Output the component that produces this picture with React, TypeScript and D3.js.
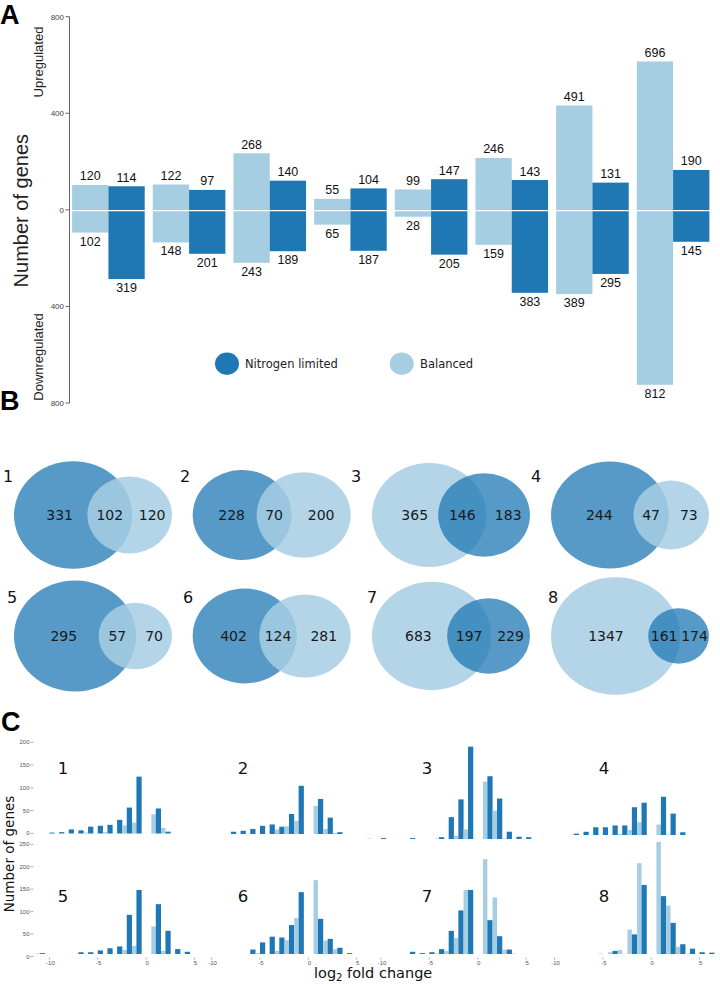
import React from "react";
import * as d3 from "d3";

// ---------- Panel A data ----------
const comparisons = ["1", "2", "3", "4", "5", "6", "7", "8"];
const balancedUp = [120, 122, 268, 55, 99, 246, 491, 696];
const balancedDown = [102, 148, 243, 65, 28, 159, 389, 812];
const nLimitedUp = [114, 97, 140, 104, 147, 143, 131, 190];
const nLimitedDown = [319, 201, 189, 187, 205, 383, 295, 145];
const axisATicks = [800, 400, 0, -400, -800];

// ---------- Panel B data ----------
const vennNLimitedOnly = [331, 228, 183, 244, 295, 402, 229, 174];
const vennShared = [102, 70, 146, 47, 57, 124, 197, 161];
const vennBalancedOnly = [120, 200, 365, 73, 70, 281, 683, 1347];

// ---------- Panel C data ----------
const foldBins = [-11, -10, -9, -8, -7, -6, -5, -4, -3, -2, -1, 0, 1, 2, 3, 4, 5, 6];
const histBalanced1 = [0, 0, 0, 0, 0, 2, 0, 3, 0, 18, 24, 0, 42, 12, 0, 0, 0, 0];
const histNLimited1 = [0, 2, 3, 9, 7, 15, 17, 19, 30, 57, 125, 0, 55, 4, 0, 0, 0, 0];
const histBalanced2 = [0, 0, 0, 0, 0, 0, 0, 0, 10, 17, 29, 0, 62, 11, 2, 0, 0, 0];
const histNLimited2 = [0, 0, 0, 5, 7, 11, 18, 21, 16, 44, 106, 0, 77, 36, 4, 0, 0, 0];
const histBalanced3 = [1, 0, 0, 0, 0, 0, 0, 1, 0, 7, 21, 0, 126, 62, 1, 0, 0, 0];
const histNLimited3 = [0, 2, 0, 0, 2, 0, 0, 4, 48, 87, 203, 0, 138, 89, 16, 5, 4, 0];
const histBalanced4 = [0, 0, 0, 1, 0, 0, 0, 0, 2, 11, 28, 0, 23, 1, 0, 0, 0, 0];
const histNLimited4 = [0, 0, 0, 3, 7, 17, 17, 21, 21, 61, 71, 0, 84, 47, 6, 0, 0, 0];
const histBalanced5 = [1, 0, 0, 0, 0, 0, 0, 0, 0, 9, 18, 0, 62, 7, 0, 0, 0, 0];
const histNLimited5 = [2, 0, 0, 0, 4, 4, 8, 13, 17, 88, 144, 0, 112, 52, 11, 5, 0, 0];
const histBalanced6 = [0, 0, 0, 0, 0, 0, 2, 0, 7, 31, 81, 0, 166, 30, 11, 0, 0, 0];
const histNLimited6 = [0, 0, 0, 0, 0, 10, 26, 39, 37, 65, 139, 0, 79, 34, 14, 2, 0, 0];
const histBalanced7 = [0, 0, 0, 0, 0, 0, 0, 1, 7, 36, 144, 0, 213, 127, 10, 1, 0, 0];
const histNLimited7 = [0, 0, 0, 0, 5, 2, 4, 11, 52, 98, 144, 0, 76, 40, 10, 0, 0, 0];
const histBalanced8 = [0, 0, 0, 0, 0, 0, 1, 4, 9, 55, 204, 0, 252, 109, 16, 1, 0, 0];
const histNLimited8 = [0, 0, 0, 0, 0, 0, 0, 7, 0, 44, 155, 0, 130, 70, 22, 12, 4, 3];
const histBalanced = [histBalanced1, histBalanced2, histBalanced3, histBalanced4, histBalanced5, histBalanced6, histBalanced7, histBalanced8];
const histNLimited = [histNLimited1, histNLimited2, histNLimited3, histNLimited4, histNLimited5, histNLimited6, histNLimited7, histNLimited8];
const histTopTicks = [0, 50, 100, 150, 200];
const histBottomTicks = [0, 50, 100, 150, 200, 250];
const foldTicks = [-10, -5, 0, 5];

// ---------- style / layout ----------
const DARK = "#1f78b4";
const LIGHT = "#a6cee3";
const ARIAL = "'Liberation Sans', Arial, sans-serif";
const DEJAVU = "'DejaVu Sans', Verdana, sans-serif";

function lensArea(r1: number, r2: number, d: number) {
  if (d >= r1 + r2) return 0;
  if (d <= Math.abs(r1 - r2)) return Math.PI * Math.min(r1, r2) ** 2;
  const a1 = Math.acos((d * d + r1 * r1 - r2 * r2) / (2 * d * r1));
  const a2 = Math.acos((d * d + r2 * r2 - r1 * r1) / (2 * d * r2));
  return (
    r1 * r1 * a1 +
    r2 * r2 * a2 -
    0.5 * Math.sqrt((-d + r1 + r2) * (d + r1 - r2) * (d - r1 + r2) * (d + r1 + r2))
  );
}
function solveDistance(r1: number, r2: number, overlap: number) {
  let lo = Math.abs(r1 - r2);
  let hi = r1 + r2;
  for (let i = 0; i < 80; i++) {
    const mid = (lo + hi) / 2;
    if (lensArea(r1, r2, mid) > overlap) lo = mid;
    else hi = mid;
  }
  return (lo + hi) / 2;
}

function PanelA() {
  // bar scale and (separately drawn) axis scale as in the reference
  const yA = d3.scaleLinear().domain([0, 812]).range([210.7, 210.7 - 812 * 0.2144]);
  const yAxisA = d3.scaleLinear().domain([-800, 800]).range([403, 16.7]);
  const xA = d3.scaleBand().domain(comparisons).range([70.5, 711]).paddingInner(0.1).paddingOuter(0.02);
  const xSub = d3.scaleBand().domain(["bal", "nlim"]).range([0, xA.bandwidth()]);
  const bw = xSub.bandwidth();
  const y0 = yA(0);
  return (
    <g>
      <text x={0} y={24} fontFamily={ARIAL} fontWeight="bold" fontSize={27}>A</text>
      <line x1={69.5} x2={69.5} y1={yAxisA(800)} y2={yAxisA(-800)} stroke="#666" strokeWidth={1} />
      {axisATicks.map((t, i) => (
        <g key={i}>
          <line x1={65.5} x2={69.5} y1={yAxisA(t)} y2={yAxisA(t)} stroke="#666" />
          <text x={64} y={yAxisA(t)} dy="0.35em" textAnchor="end" fontFamily={ARIAL} fontSize={8} fill="#444">
            {Math.abs(t)}
          </text>
        </g>
      ))}
      <text transform={`translate(28,${y0}) rotate(-90)`} textAnchor="middle" fontFamily={ARIAL} fontSize={20} fill="#222">
        Number of genes
      </text>
      <text transform={`translate(43,62) rotate(-90)`} textAnchor="middle" fontFamily={ARIAL} fontSize={13} fill="#222">
        Upregulated
      </text>
      <text transform={`translate(43,357) rotate(-90)`} textAnchor="middle" fontFamily={ARIAL} fontSize={13} fill="#222">
        Downregulated
      </text>
      {comparisons.map((c, i) => {
        const xb = (xA(c) as number) + (xSub("bal") as number);
        const xn = (xA(c) as number) + (xSub("nlim") as number);
        const down = (v: number) => 2 * y0 - yA(v);
        return (
          <g key={c}>
            <rect x={xb} width={bw} y={yA(balancedUp[i])} height={y0 - yA(balancedUp[i])} fill={LIGHT} />
            <rect x={xb} width={bw} y={y0} height={down(balancedDown[i]) - y0} fill={LIGHT} />
            <rect x={xn} width={bw} y={yA(nLimitedUp[i])} height={y0 - yA(nLimitedUp[i])} fill={DARK} />
            <rect x={xn} width={bw} y={y0} height={down(nLimitedDown[i]) - y0} fill={DARK} />
            <text x={xb + bw / 2} y={yA(balancedUp[i]) - 4.5} textAnchor="middle" fontFamily={ARIAL} fontSize={12.5} fill="#111">
              {balancedUp[i]}
            </text>
            <text x={xb + bw / 2} y={down(balancedDown[i]) + 13} textAnchor="middle" fontFamily={ARIAL} fontSize={12.5} fill="#111">
              {balancedDown[i]}
            </text>
            <text x={xn + bw / 2} y={yA(nLimitedUp[i]) - 4.5} textAnchor="middle" fontFamily={ARIAL} fontSize={12.5} fill="#111">
              {nLimitedUp[i]}
            </text>
            <text x={xn + bw / 2} y={down(nLimitedDown[i]) + 13} textAnchor="middle" fontFamily={ARIAL} fontSize={12.5} fill="#111">
              {nLimitedDown[i]}
            </text>
          </g>
        );
      })}
      <line x1={70} x2={712} y1={y0} y2={y0} stroke="#fff" strokeWidth={1.2} />
      <ellipse cx={227} cy={363.7} rx={12} ry={11.2} fill={DARK} />
      <text x={245} y={363.7} dy="0.35em" fontFamily={DEJAVU} fontSize={11.5} fill="#222">Nitrogen limited</text>
      <ellipse cx={401.7} cy={363.7} rx={12} ry={11.2} fill={LIGHT} />
      <text x={420} y={363.7} dy="0.35em" fontFamily={DEJAVU} fontSize={11.5} fill="#222">Balanced</text>
    </g>
  );
}

const vennColX = [14, 192.7, 372, 551];
const vennRowY = [515, 636];
const vennNumX = [
  [8, 185, 356, 536],
  [12, 188, 372, 553],
];

function PanelB() {
  return (
    <g>
      <text x={0} y={410} fontFamily={ARIAL} fontWeight="bold" fontSize={27}>B</text>
      {comparisons.map((c, i) => {
        const nTotal = vennNLimitedOnly[i] + vennShared[i];
        const bTotal = vennBalancedOnly[i] + vennShared[i];
        const nlimBig = nTotal >= bTotal;
        const r1 = Math.sqrt(Math.max(nTotal, bTotal) / Math.PI);
        const r2 = Math.sqrt(Math.min(nTotal, bTotal) / Math.PI);
        const d = solveDistance(r1, r2, vennShared[i]);
        const row = Math.floor(i / 4);
        const col = i % 4;
        const x0 = vennColX[col];
        const sx = d3.scaleLinear().domain([0, r1 + d + r2]).range([x0, x0 + 158]);
        const k = sx(1) - sx(0);
        const cy = vennRowY[row];
        const c1 = sx(r1);
        const c2 = sx(r1 + d);
        const rx1 = k * r1;
        const rx2 = k * r2;
        const leftEdge = sx(0);
        const ovL = c2 - rx2;
        const ovR = c1 + rx1;
        const rightEdge = sx(r1 + d + r2);
        const midLeft = (leftEdge + ovL) / 2;
        const leftLabelX = midLeft + 0.4 * (c1 - midLeft);
        const sharedX = (ovL + ovR) / 2;
        const rightX = (ovR + rightEdge) / 2;
        const leftCol = nlimBig ? DARK : LIGHT;
        const rightCol = nlimBig ? LIGHT : DARK;
        const leftOnly = nlimBig ? vennNLimitedOnly[i] : vennBalancedOnly[i];
        const rightOnly = nlimBig ? vennBalancedOnly[i] : vennNLimitedOnly[i];
        const op = (col2: string) => (col2 === DARK ? 0.75 : 0.85);
        return (
          <g key={c}>
            <ellipse cx={c1} cy={cy} rx={rx1} ry={rx1 * 0.91} fill={leftCol} fillOpacity={op(leftCol)} />
            <ellipse cx={c2} cy={cy} rx={rx2} ry={rx2 * 0.91} fill={rightCol} fillOpacity={op(rightCol)} />
            <text x={leftLabelX} y={cy} dy="0.35em" textAnchor="middle" fontFamily={DEJAVU} fontSize={14} fill="#1a1a1a">{leftOnly}</text>
            <text x={sharedX} y={cy} dy="0.35em" textAnchor="middle" fontFamily={DEJAVU} fontSize={14} fill="#1a1a1a">{vennShared[i]}</text>
            <text x={rightX} y={cy} dy="0.35em" textAnchor="middle" fontFamily={DEJAVU} fontSize={14} fill="#1a1a1a">{rightOnly}</text>
            <text x={vennNumX[row][col]} y={cy - 33} textAnchor="middle" fontFamily={DEJAVU} fontSize={16} fill="#111">{c}</text>
          </g>
        );
      })}
    </g>
  );
}

const histZeroX = [146.1, 308.3, 477.7, 651.2];
const histTopBase = [833.5, 834, 839, 835];
const histBottomBase = 954;
const histNumX = [63, 243, 427, 604];

function PanelC() {
  const yTopAxis = d3.scaleLinear().domain([0, 200]).range([833.3, 742.3]);
  const yBotAxis = d3.scaleLinear().domain([0, 250]).range([956.5, 844.3]);
  return (
    <g>
      <text x={1} y={731} fontFamily={ARIAL} fontWeight="bold" fontSize={27}>C</text>
      {histTopTicks.map((t) => (
        <g key={"t" + t}>
          <text x={29.5} y={yTopAxis(t)} dy="0.35em" textAnchor="end" fontFamily={ARIAL} fontSize={6} fill="#555">{t}</text>
          <line x1={30.5} x2={33.5} y1={yTopAxis(t)} y2={yTopAxis(t)} stroke="#777" strokeWidth={0.6} />
        </g>
      ))}
      {histBottomTicks.map((t) => (
        <g key={"b" + t}>
          <text x={29.5} y={yBotAxis(t)} dy="0.35em" textAnchor="end" fontFamily={ARIAL} fontSize={6} fill="#555">{t}</text>
          <line x1={30.5} x2={33.5} y1={yBotAxis(t)} y2={yBotAxis(t)} stroke="#777" strokeWidth={0.6} />
        </g>
      ))}
      <text transform="translate(13.5,854) rotate(-90)" textAnchor="middle" fontFamily={DEJAVU} fontSize={13.5} fill="#111">
        Number of genes
      </text>
      <text x={314} y={978} fontFamily={DEJAVU} fontSize={14.5} fill="#111">
        log<tspan fontSize={10} dy={3}>2</tspan>
        <tspan dy={-3}> fold change</tspan>
      </text>
      {comparisons.map((c, i) => {
        const row = Math.floor(i / 4);
        const col = i % 4;
        const zero = histZeroX[col];
        const x = d3.scaleLinear().domain([-10, 5]).range([zero - 96.7, zero + 48.35]);
        const base = row === 0 ? histTopBase[col] : histBottomBase;
        const pxu = row === 0 ? 0.455 : 0.445;
        const y = d3.scaleLinear().domain([0, 250]).range([base, base - 250 * pxu]);
        return (
          <g key={c}>
            {foldBins.map((b, j) => {
              const lv = histBalanced[i][j];
              const dv = histNLimited[i][j];
              return (
                <g key={b}>
                  {lv > 0 && (
                    <rect x={x(b - 0.46)} width={x(b) - x(b - 0.46)} y={y(lv)} height={base - y(lv)} fill={LIGHT} />
                  )}
                  {dv > 0 && (
                    <rect x={x(b)} width={x(b + 0.54) - x(b)} y={y(dv)} height={base - y(dv)} fill={DARK} />
                  )}
                </g>
              );
            })}
            {row === 1 &&
              foldTicks.map((t) => (
                <g key={t}>
                  <line x1={x(t)} x2={x(t)} y1={957.5} y2={959.5} stroke="#777" strokeWidth={0.6} />
                  <text x={x(t) + 1} y={963} dy="0.35em" textAnchor="middle" fontFamily={ARIAL} fontSize={6} fill="#555">{t}</text>
                </g>
              ))}
            <text x={histNumX[col]} y={row === 0 ? 774.3 : 902} textAnchor="middle" fontFamily={DEJAVU} fontSize={16.5} fill="#111">{c}</text>
          </g>
        );
      })}
    </g>
  );
}

export default function App() {
  return (
    <div style={{ position: "absolute", left: 0, top: 0, width: 720, height: 985, background: "#fff" }}>
      <svg width={720} height={985} viewBox="0 0 720 985" style={{ display: "block" }}>
        <rect width={720} height={985} fill="#fff" />
        <PanelA />
        <PanelB />
        <PanelC />
      </svg>
    </div>
  );
}
